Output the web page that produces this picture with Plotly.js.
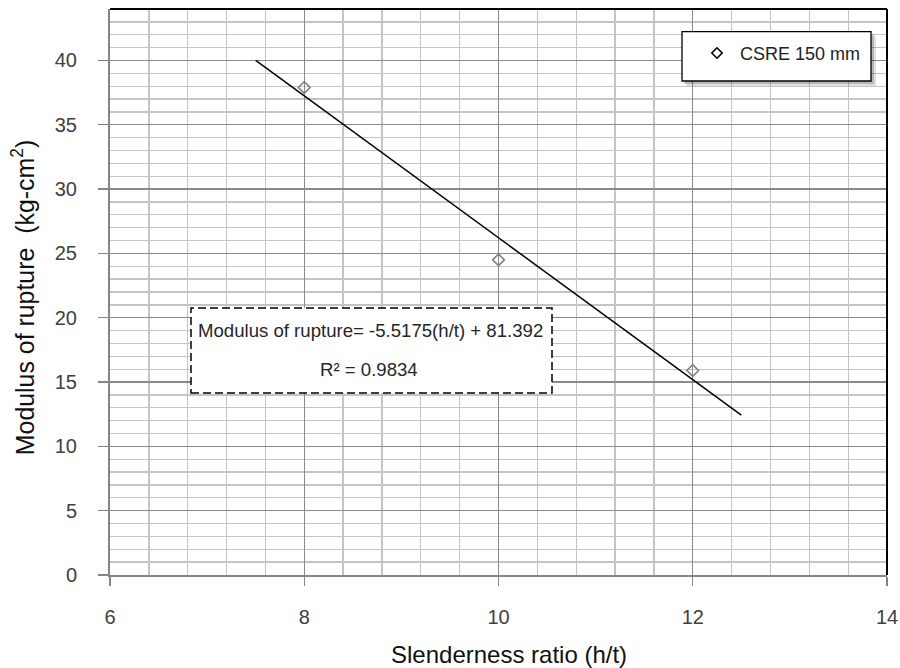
<!DOCTYPE html>
<html>
<head>
<meta charset="utf-8">
<script src="https://cdn.plot.ly/plotly-3.0.1.min.js"></script>
<style>html,body{margin:0;padding:0;background:#fff;}#chart{width:900px;height:668px;}</style>
</head>
<body>
<div id="chart"></div>
<script>
// Data
const slenderness = [8, 10, 12];
const modulus = [37.9, 24.5, 15.9];
const seriesName = 'CSRE 150 mm';
// Linear trendline as printed on the chart
const trendSlope = -5.5175;
const trendIntercept = 81.392;
const trendX = [7.5, 12.5];
const trendY = trendX.map(x => trendSlope * x + trendIntercept);
const eqText = 'Modulus of rupture= -5.5175(h/t) + 81.392';
const r2Text = 'R² = 0.9834';
const xTitle = 'Slenderness ratio (h/t)';
const yTitle = 'Modulus of rupture&nbsp;&nbsp;(kg-cm<sup>2</sup>)';

const FONT = 'Liberation Sans, Arial, Helvetica, sans-serif';

const traces = [
  {x: slenderness, y: modulus, type: 'scatter', mode: 'markers', name: seriesName, showlegend: false,
   marker: {symbol: 'diamond-open', size: 9, color: '#808080', line: {width: 1.6, color: '#808080'}}},
  {x: trendX, y: trendY, type: 'scatter', mode: 'lines', name: 'Linear trend', showlegend: false,
   line: {color: '#000000', width: 1.5}},
  // legend entry (black symbol as in the reference legend)
  {x: [null], y: [null], type: 'scatter', mode: 'markers', name: seriesName, showlegend: true,
   marker: {symbol: 'diamond-open', size: 8, color: '#000000', line: {width: 1.6, color: '#000000'}}}
];

const px = v => (v - 110) / 777;   // paper x from a pixel position
const py = v => (575 - v) / 566;   // paper y from a pixel position

const layout = {
  width: 900, height: 668,
  margin: {l: 110, r: 13, t: 9, b: 93, pad: 0},
  paper_bgcolor: '#ffffff', plot_bgcolor: '#ffffff',
  font: {family: FONT, color: '#404040'},
  showlegend: true,
  xaxis: {
    range: [6, 14], dtick: 2, tick0: 6,
    showgrid: true, gridcolor: '#8a8a8a', gridwidth: 1.3,
    minor: {dtick: 0.4, showgrid: true, gridcolor: '#c4c4c4', gridwidth: 1.3, ticks: ''},
    showline: true, linecolor: '#868686', linewidth: 2,
    ticks: 'outside', ticklen: 9, tickwidth: 1.3, tickcolor: '#868686',
    tickfont: {size: 20, color: '#404040', family: FONT},
    ticklabelstandoff: 14,
    zeroline: false, automargin: false
  },
  yaxis: {
    range: [0, 44], dtick: 5, tick0: 0,
    showgrid: true, gridcolor: '#8a8a8a', gridwidth: 1.3,
    minor: {dtick: 1, showgrid: true, gridcolor: '#c4c4c4', gridwidth: 1.3, ticks: ''},
    showline: true, linecolor: '#868686', linewidth: 2,
    ticks: 'outside', ticklen: 10, tickwidth: 1.3, tickcolor: '#868686',
    tickfont: {size: 20, color: '#404040', family: FONT},
    ticklabelstandoff: 17,
    zeroline: false, automargin: false
  },
  legend: {
    x: px(694), xanchor: 'left', y: py(53.3), yanchor: 'middle',
    bgcolor: 'rgba(0,0,0,0)', borderwidth: 0, itemwidth: 36,
    font: {size: 18, color: '#222222', family: FONT}
  },
  shapes: [
    {type: 'line', xref: 'paper', yref: 'paper', x0: 0, x1: 1, y0: 1, y1: 1, line: {color: '#000000', width: 2}, layer: 'above'},
    {type: 'line', xref: 'paper', yref: 'paper', x0: 1, x1: 1, y0: 0, y1: 1, line: {color: '#000000', width: 2}, layer: 'above'},
    {type: 'rect', xref: 'paper', yref: 'paper', x0: px(686), x1: px(876), y0: py(86), y1: py(36), fillcolor: 'rgba(0,0,0,0.12)', line: {width: 0}, layer: 'above'},
    {type: 'rect', xref: 'paper', yref: 'paper', x0: px(684), x1: px(874), y0: py(84), y1: py(34), fillcolor: 'rgba(0,0,0,0.18)', line: {width: 0}, layer: 'above'},
    {type: 'rect', xref: 'paper', yref: 'paper', x0: px(682), x1: px(871), y0: py(81), y1: py(31.7), fillcolor: '#ffffff', line: {color: '#000000', width: 1.3}, layer: 'above'},
    {type: 'rect', xref: 'paper', yref: 'paper', x0: px(191), x1: px(552), y0: py(393), y1: py(308), fillcolor: '#ffffff', line: {color: '#000000', width: 1.5, dash: '8px,4px'}, layer: 'above'}
  ],
  annotations: [
    {xref: 'paper', yref: 'paper', x: px(370), y: py(330), xanchor: 'center', yanchor: 'middle', showarrow: false,
     text: eqText, font: {size: 18.6, color: '#262626', family: FONT}},
    {xref: 'paper', yref: 'paper', x: px(369), y: py(369.8), xanchor: 'center', yanchor: 'middle', showarrow: false,
     text: r2Text, font: {size: 18.6, color: '#262626', family: FONT}},
    {xref: 'paper', yref: 'paper', x: px(509), y: py(654.7), xanchor: 'center', yanchor: 'middle', showarrow: false,
     text: xTitle, font: {size: 24, color: '#111111', family: FONT}},
    {xref: 'paper', yref: 'paper', x: px(22.7), y: py(297.5), xanchor: 'center', yanchor: 'middle', showarrow: false,
     textangle: -90, text: yTitle, font: {size: 24.9, color: '#111111', family: FONT}}
  ]
};

Plotly.newPlot('chart', traces, layout, {staticPlot: true, displayModeBar: false});
</script>
</body>
</html>
